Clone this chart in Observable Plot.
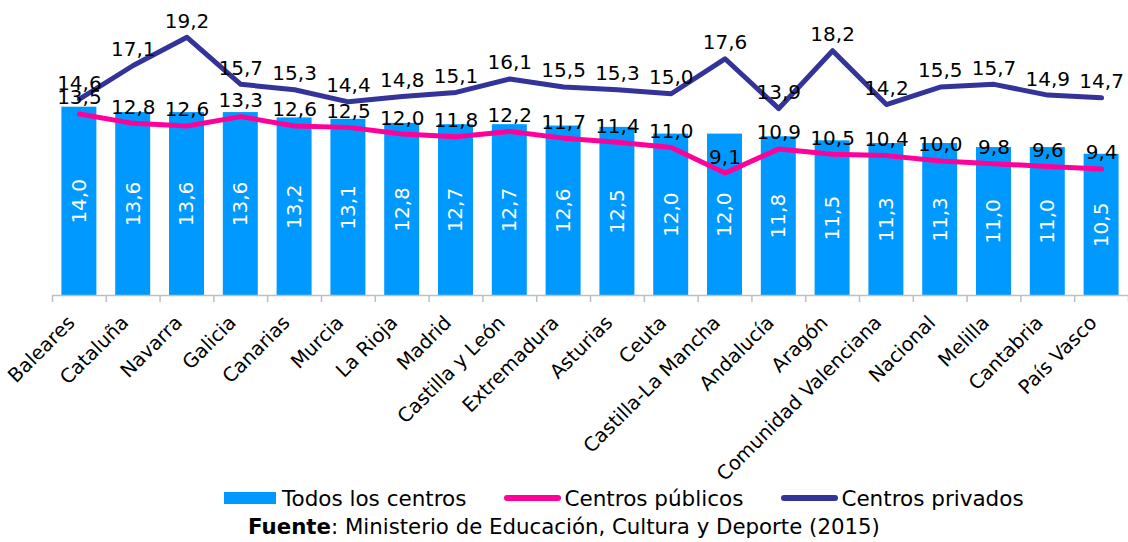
<!DOCTYPE html>
<html><head><meta charset="utf-8">
<script src="https://cdn.jsdelivr.net/npm/d3@7"></script>
<script src="https://cdn.jsdelivr.net/npm/@observablehq/plot@0.6"></script>
<style>
html,body{margin:0;padding:0;background:#fff;}
body{font-family:"DejaVu Sans",Verdana,sans-serif;color:#000;width:1128px;}
#chart svg{display:block;}
#legend{display:flex;align-items:center;margin-left:224px;height:20px;font-size:21.5px;white-space:nowrap;}
#legend .item{display:flex;align-items:center;margin-right:38px;}
#legend .box{width:52px;height:12px;background:#0099FF;margin-right:6px;}
#legend .line{width:57px;height:6px;border-radius:3px;margin-right:3px;}
#caption{text-align:center;font-size:21.3px;height:38px;line-height:38px;}
</style></head>
<body>
<div id="chart"></div>
<div id="legend"></div>
<div id="caption"><b>Fuente</b>: Ministerio de Educación, Cultura y Deporte (2015)</div>
<script>
const regiones = ["Baleares","Cataluña","Navarra","Galicia","Canarias","Murcia","La Rioja","Madrid","Castilla y León","Extremadura","Asturias","Ceuta","Castilla-La Mancha","Andalucía","Aragón","Comunidad Valenciana","Nacional","Melilla","Cantabria","País Vasco"];
const todos    = [14.0,13.6,13.6,13.6,13.2,13.1,12.8,12.7,12.7,12.6,12.5,12.0,12.0,11.8,11.5,11.3,11.3,11.0,11.0,10.5];
const publicos = [13.5,12.8,12.6,13.3,12.6,12.5,12.0,11.8,12.2,11.7,11.4,11.0,9.1,10.9,10.5,10.4,10.0,9.8,9.6,9.4];
const privados = [14.6,17.1,19.2,15.7,15.3,14.4,14.8,15.1,16.1,15.5,15.3,15.0,17.6,13.9,18.2,14.2,15.5,15.7,14.9,14.7];
const series = ["Todos los centros","Centros públicos","Centros privados"];

const colors = {todos:"#0099FF", pub:"#FF0099", priv:"#333399"};
const fmt = v => d3.format(".1f")(v).replace(".", ",");

const data = regiones.map((r,i)=>({region:r, todos:todos[i], pub:publicos[i], priv:privados[i]}));

const W = 1128, H = 488, mL = 52, mR = 0, mT = 26, mB = 193;
const step = (W - mL - mR) / regiones.length;
const font = "DejaVu Sans, Verdana, sans-serif";

const chart = Plot.plot({
  width: W, height: H,
  marginLeft: mL, marginRight: mR, marginTop: mT, marginBottom: mB,
  style: {fontFamily: font, fontSize: "20px", color: "#000", background: "#fff"},
  x: {domain: regiones, paddingInner: 0.35, paddingOuter: 0.175, round: false, axis: null},
  y: {domain: [0, 20], axis: null},
  marks: [
    Plot.barY(data, {x: "region", y: "todos", fill: colors.todos}),
    Plot.text(data, {x: "region", y: d => d.todos / 2, text: d => fmt(d.todos), rotate: -90, fill: "white", fontSize: 20}),
    Plot.ruleY([0], {stroke: "#bfbfbf", strokeWidth: 1.5}),
    Plot.ruleX(regiones, {x: d => d, y1: 0, y2: 0, insetBottom: -7, dx: -step/2, stroke: "#bfbfbf", strokeWidth: 1.5}),
    Plot.ruleX(regiones.slice(-1), {x: d => d, y1: 0, y2: 0, insetBottom: -7, dx: step/2, stroke: "#bfbfbf", strokeWidth: 1.5}),
    Plot.line(data, {x: "region", y: "pub", stroke: colors.pub, strokeWidth: 5, strokeLinejoin: "round", strokeLinecap: "round"}),
    Plot.line(data, {x: "region", y: "priv", stroke: colors.priv, strokeWidth: 5, strokeLinejoin: "round", strokeLinecap: "round"}),
    Plot.text(data, {x: "region", y: "pub", text: d => fmt(d.pub), dy: -16, fill: "#000", fontSize: 20}),
    Plot.text(data, {x: "region", y: "priv", text: d => fmt(d.priv), dy: -16, fill: "#000", fontSize: 20}),
    Plot.axisX({tickSize: 0, tickRotate: -45, tickPadding: 24, dx: -8, fontSize: 19.5, fill: "#000", label: null})
  ]
});
document.getElementById("chart").appendChild(chart);

const legend = document.getElementById("legend");
const swatches = [["box", colors.todos], ["line", colors.pub], ["line", colors.priv]];
series.forEach((s, i) => {
  const item = document.createElement("div");
  item.className = "item";
  const sw = document.createElement("span");
  sw.className = swatches[i][0];
  sw.style.background = swatches[i][1];
  item.appendChild(sw);
  const t = document.createElement("span");
  t.textContent = s;
  item.appendChild(t);
  legend.appendChild(item);
});
</script>
</body></html>
